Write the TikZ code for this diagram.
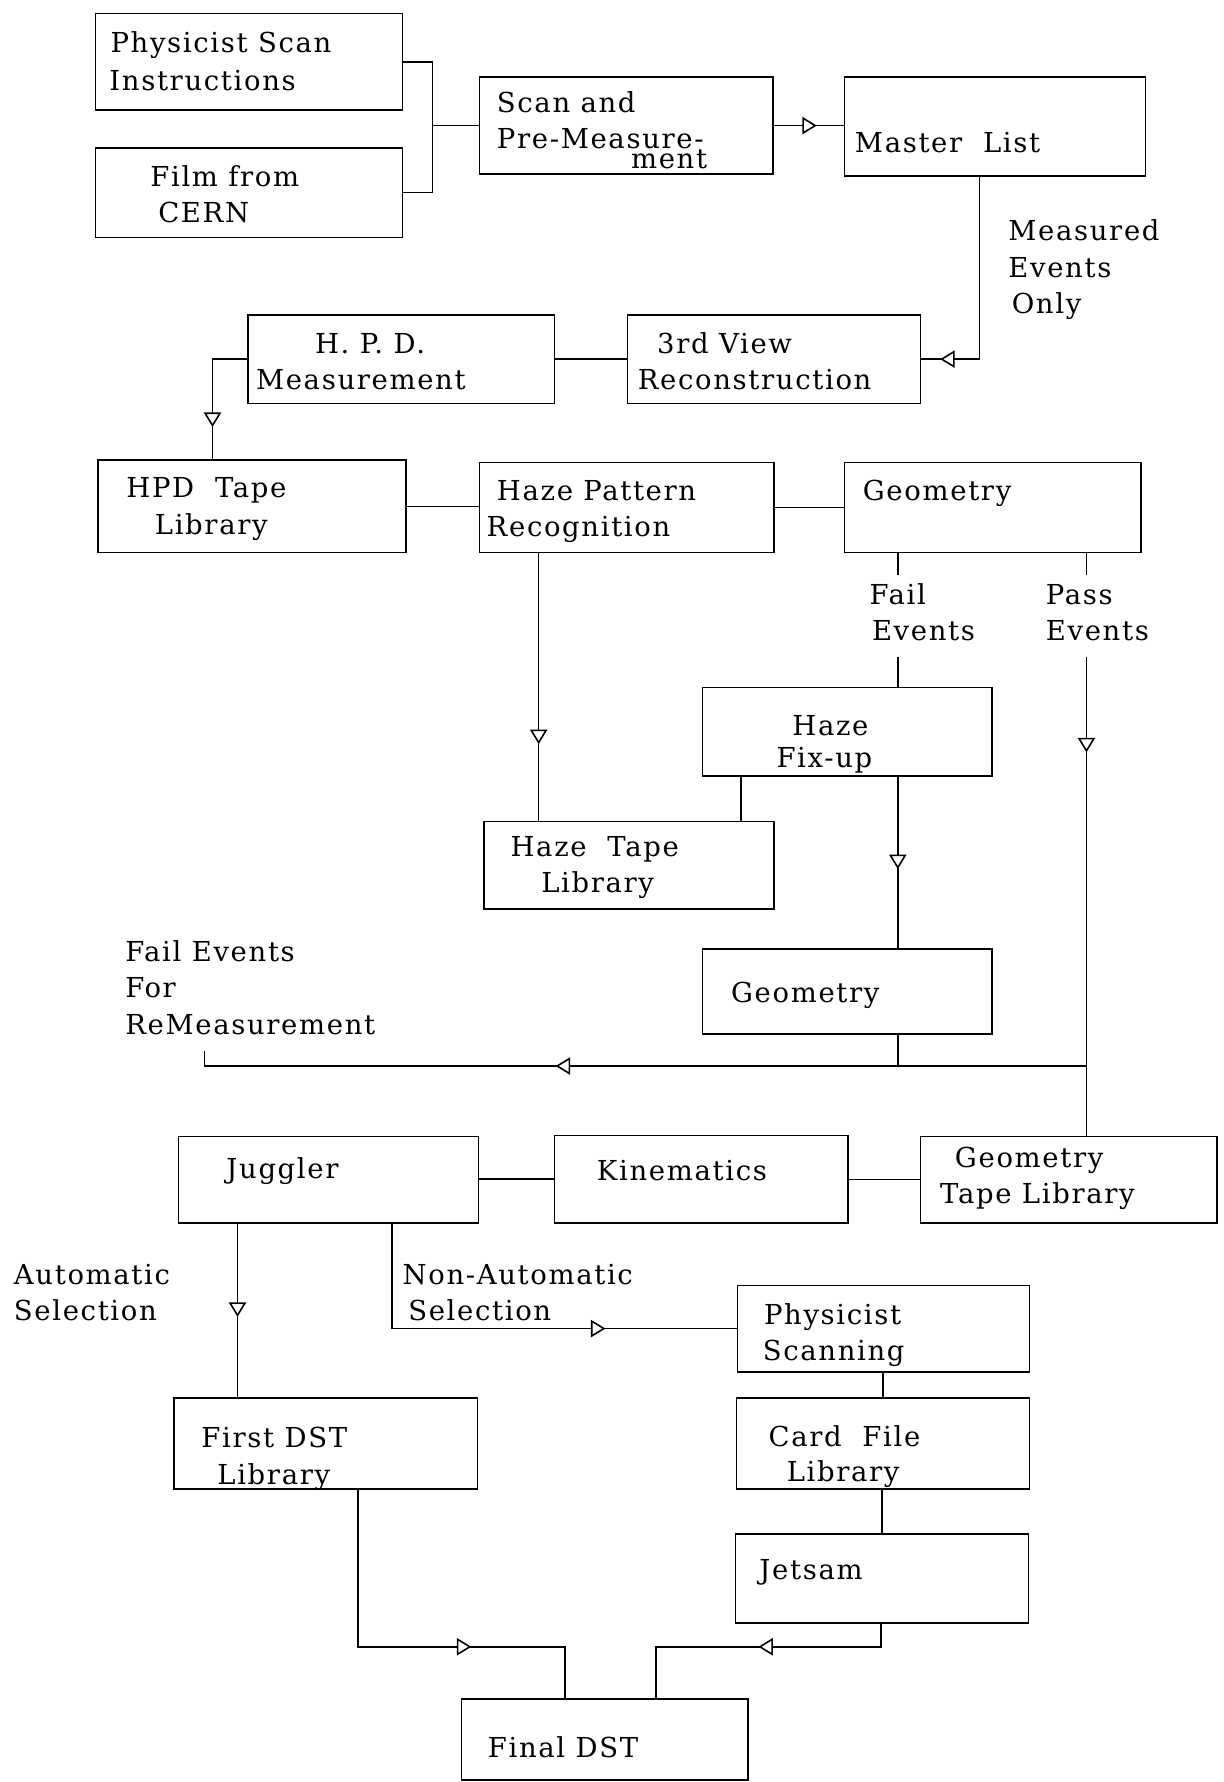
\documentclass[tikz,border=0pt]{standalone}
\usepackage{fontspec}
\setmainfont{DejaVu Serif}[LetterSpace=6]
\usetikzlibrary{arrows.meta,decorations.markings,fit}
\newcommand{\txtline}[4]{\node[txt] (#1) at (#2,#3) {#4};}
\begin{document}
\begin{tikzpicture}[x=0.025cm,y=-0.025cm,
  box/.style={draw, line width=1pt, inner sep=0pt},
  txt/.style={anchor=base west, inner sep=0pt, font=\fontsize{17.2}{23}\selectfont},
  conn/.style={line width=1pt},
  marr/.style={postaction={decorate}, decoration={markings, mark=at position #1 with {\arrow{Triangle[length=0.32cm,width=0.38cm,fill=white]}}}}]
\fill[white] (0,0) rectangle (1077,1568);
\useasboundingbox (0,0) rectangle (1077,1568);
% boxes
\node[box, fit={(84,12) (354,97)}] (psi) {};
\node[box, fit={(84,130) (354,209)}] (film) {};
\node[box, fit={(422,68) (680,153)}] (scan) {};
\node[box, fit={(743,68) (1008,155)}] (master) {};
\node[box, fit={(218,277) (488,355)}] (hpd) {};
\node[box, fit={(552,277) (810,355)}] (third) {};
\node[box, fit={(86,405) (357,486)}] (hpdtape) {};
\node[box, fit={(422,407) (681,486)}] (hazepr) {};
\node[box, fit={(743,407) (1004,486)}] (geoma) {};
\node[box, fit={(618,605) (873,683)}] (fixup) {};
\node[box, fit={(426,723) (681,800)}] (hazetape) {};
\node[box, fit={(618,835) (873,910)}] (geomb) {};
\node[box, fit={(157,1000) (421,1076)}] (juggler) {};
\node[box, fit={(488,999) (746,1076)}] (kin) {};
\node[box, fit={(810,1000) (1071,1076)}] (geomtape) {};
\node[box, fit={(649,1131) (906,1207)}] (physcan) {};
\node[box, fit={(153,1230) (420,1310)}] (firstdst) {};
\node[box, fit={(648,1230) (906,1310)}] (card) {};
\node[box, fit={(647,1350) (905,1428)}] (jetsam) {};
\node[box, fit={(406,1495) (658,1566)}] (final) {};
% texts
\txtline{t1}{97}{46}{Physicist Scan}
\txtline{t2}{96}{80}{Instructions}
\txtline{t3}{132}{164}{Film from}
\txtline{t4}{139}{196}{CERN}
\txtline{t5}{437}{99}{Scan and}
\txtline{t6}{437}{131}{Pre-Measure-}
\txtline{t7}{555}{148}{ment}
\txtline{t8}{752}{134}{Master~~List}
\txtline{t9}{887}{212}{Measured}
\txtline{t10}{887}{244}{Events}
\txtline{t11}{890}{276}{Only}
\txtline{t12}{277}{311}{H. P. D.}
\txtline{t13}{225}{343}{Measurement}
\txtline{t14}{578}{311}{3rd View}
\txtline{t15}{561}{343}{Reconstruction}
\txtline{t16}{111}{438}{HPD~~Tape}
\txtline{t17}{136}{470}{Library}
\txtline{t18}{437}{440}{Haze Pattern}
\txtline{t19}{428}{472}{Recognition}
\txtline{t20}{759}{440}{Geometry}
\txtline{t21}{765}{532}{Fail}
\txtline{t22}{767}{564}{Events}
\txtline{t23}{920}{532}{Pass}
\txtline{t24}{920}{564}{Events}
\txtline{t25}{697}{647}{Haze}
\txtline{t26}{683}{675}{Fix-up}
\txtline{t27}{449}{754}{Haze~~Tape}
\txtline{t28}{476}{785}{Library}
\txtline{t29}{110}{846}{Fail Events}
\txtline{t30}{110}{878}{For}
\txtline{t31}{110}{910}{ReMeasurement}
\txtline{t32}{643}{882}{Geometry}
\txtline{t33}{199}{1037}{Juggler}
\txtline{t34}{525}{1039}{Kinematics}
\txtline{t35}{840}{1027}{Geometry}
\txtline{t36}{827}{1059}{Tape Library}
\txtline{t37}{12}{1130}{Automatic}
\txtline{t38}{12}{1162}{Selection}
\txtline{t39}{354}{1130}{Non-Automatic}
\txtline{t40}{359}{1162}{Selection}
\txtline{t41}{672}{1165}{Physicist}
\txtline{t42}{671}{1197}{Scanning}
\txtline{t43}{177}{1274}{First DST}
\txtline{t44}{191}{1306}{Library}
\txtline{t45}{676}{1273}{Card~~File}
\txtline{t46}{692}{1304}{Library}
\txtline{t47}{668}{1390}{Jetsam}
\txtline{t48}{429}{1546}{Final DST}
% free ends and junctions
\coordinate (failtop) at (790,506);
\coordinate (failbot) at (790,578);
\coordinate (passtop) at (956,506);
\coordinate (passbot) at (956,578);
\coordinate (jf) at (956,938);
\coordinate (refree) at (180,925);
\coordinate (fl) at (497,1449);
\coordinate (fr) at (577,1449);
% connectors
\draw[conn] (psi.east) -- ++(26,0) coordinate (jb) |- (film.east);
\draw[conn] (jb |- scan.west) -- (scan.west);
\draw[conn, marr=0.95cm] (scan.east) -- (scan.east -| master.west);
\draw[conn, marr=4.875cm] (862,0 |- master.south) -- (862,0 |- third.east) -- (third.east);
\draw[conn] (hpd.east) -- (third.west);
\draw[conn, marr=2.25cm] (hpd.west) -| (187,0 |- hpdtape.north);
\draw[conn] (hpdtape.east) -- (hpdtape.east -| hazepr.west);
\draw[conn] (hazepr.east) -- (hazepr.east -| geoma.west);
\draw[conn, marr=4.2cm] (474,0 |- hazepr.south) -- (474,0 |- hazetape.north);
\draw[conn] (790,0 |- geoma.south) -- (failtop);
\draw[conn] (failbot) -- (failbot |- fixup.north);
\draw[conn] (956,0 |- geoma.south) -- (passtop);
\draw[conn, marr=2.1cm] (passbot) -- (passbot |- geomtape.north);
\draw[conn] (652,0 |- fixup.south) -- (652,0 |- hazetape.north);
\draw[conn, marr=2.025cm] (790,0 |- fixup.south) -- (790,0 |- geomb.north);
\draw[conn] (790,0 |- geomb.south) -- (790,0 |- jf);
\draw[conn, marr=11.675cm] (jf) -- (jf -| refree) -- (refree);
\draw[conn] (geomtape.west) -- (geomtape.west -| kin.east);
\draw[conn] (kin.west) -- (kin.west -| juggler.east);
\draw[conn, marr=2.05cm] (209,0 |- juggler.south) -- (209,0 |- firstdst.north);
\draw[conn, marr=7.0cm] (345,0 |- juggler.south) |- (physcan.west);
\draw[conn] (777,0 |- physcan.south) -- (777,0 |- card.north);
\draw[conn] (776,0 |- card.south) -- (776,0 |- jetsam.north);
\draw[conn, marr=5.95cm] (315,0 |- firstdst.south) |- (fl) -- (fl |- final.north);
\draw[conn, marr=3.2cm] (775,0 |- jetsam.south) |- (fr) -- (fr |- final.north);
\end{tikzpicture}
\end{document}
